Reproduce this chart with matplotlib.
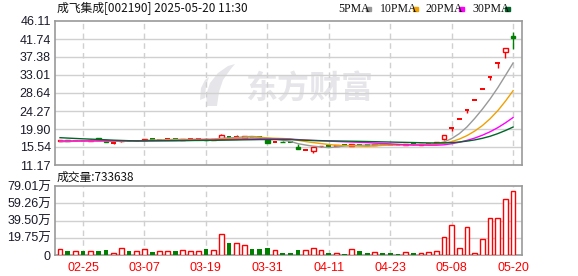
import matplotlib
matplotlib.use("Agg")
import matplotlib.pyplot as plt
from matplotlib.patches import Rectangle, Polygon
import numpy as np
import pandas as pd

plt.rcParams['font.family'] = ['Liberation Sans', 'Noto Sans CJK SC', 'DejaVu Sans']

# trading days shown (02-20 .. 05-20)
dates = ["02-20", "02-21", "02-24", "02-25", "02-26", "02-27", "02-28", "03-03", "03-04", "03-05",
         "03-06", "03-07", "03-10", "03-11", "03-12", "03-13", "03-14", "03-17", "03-18", "03-19",
         "03-20", "03-21", "03-24", "03-25", "03-26", "03-27", "03-28", "03-31", "04-01", "04-02",
         "04-03", "04-07", "04-08", "04-09", "04-10", "04-11", "04-14", "04-15", "04-16", "04-17",
         "04-18", "04-21", "04-22", "04-23", "04-24", "04-25", "04-28", "04-29", "04-30", "05-06",
         "05-07", "05-08", "05-09", "05-12", "05-13", "05-14", "05-15", "05-16", "05-19", "05-20"]

opens = [16.95, 17.20, 17.05, 17.15, 17.10, 17.60, 17.00, 16.55, 16.90, 17.15,
         17.05, 17.20, 17.45, 17.30, 17.38, 17.45, 17.30, 17.40, 17.42, 17.55,
         17.30, 17.50, 17.95, 17.90, 17.75, 18.05, 17.95, 17.20, 16.75, 16.85,
         16.70, 15.60, 14.85, 14.65, 15.70, 15.80, 15.75, 15.95, 15.90, 16.15,
         16.05, 16.00, 16.15, 16.15, 16.05, 16.00, 16.25, 16.10, 16.25, 16.50,
         17.48, 20.24, 22.26, 24.49, 26.94, 29.63, 32.59, 35.85, 38.50, 42.40]
highs = [17.30, 17.25, 17.25, 17.20, 17.45, 17.65, 17.05, 16.65, 17.20, 17.20,
         17.20, 17.45, 17.50, 17.40, 17.50, 17.48, 17.45, 17.50, 17.55, 17.60,
         17.50, 18.80, 18.00, 18.40, 18.30, 18.10, 18.00, 17.25, 16.90, 16.90,
         16.75, 16.20, 14.95, 15.50, 15.90, 15.85, 16.00, 16.00, 16.25, 16.20,
         16.10, 16.20, 16.20, 16.20, 16.10, 16.30, 16.30, 16.30, 16.35, 16.75,
         18.55, 20.24, 22.26, 24.49, 26.94, 29.63, 32.59, 35.85, 39.44, 43.38]
lows = [16.90, 17.00, 17.00, 17.00, 17.05, 17.15, 16.80, 16.30, 16.85, 17.00,
        17.00, 17.15, 17.30, 17.25, 17.30, 17.30, 17.28, 17.35, 17.40, 17.30,
        17.25, 17.45, 17.55, 17.85, 17.70, 17.90, 17.80, 16.40, 16.70, 16.65,
        16.55, 14.95, 14.70, 14.15, 15.65, 15.60, 15.70, 15.85, 15.85, 16.00,
        15.95, 15.95, 16.05, 16.00, 15.95, 15.95, 16.10, 16.05, 16.20, 16.45,
        17.24, 19.50, 22.26, 23.80, 26.94, 29.63, 31.80, 34.80, 37.06, 39.24]
closes = [17.15, 17.05, 17.15, 17.05, 17.35, 17.20, 16.85, 16.60, 17.10, 17.05,
          17.15, 17.40, 17.35, 17.38, 17.42, 17.35, 17.42, 17.45, 17.48, 17.35,
          17.45, 18.55, 17.88, 17.95, 18.20, 17.95, 17.85, 16.55, 16.85, 16.70,
          16.60, 15.00, 14.90, 15.45, 15.85, 15.70, 15.95, 15.90, 16.15, 16.05,
          16.00, 16.15, 16.10, 16.05, 16.00, 16.25, 16.15, 16.25, 16.30, 16.70,
          18.40, 20.24, 22.26, 24.49, 26.94, 29.63, 32.59, 35.85, 39.44, 42.10]
# closes of the 29 sessions before 02-20 (needed for the moving averages)
prev_closes = [20.0, 19.9, 19.7, 19.6, 19.5, 19.4, 19.3, 19.1, 18.9, 18.6,
               17.2, 17.0, 16.9, 17.1, 17.0, 16.8, 16.9, 17.1, 17.0, 17.0,
               17.3, 17.2, 17.2, 17.1, 17.2, 16.8, 16.7, 16.6, 16.75]

# volume in 万 and bar colour (R up / G down)
volume = [6.5, 5.0, 4.6, 5.0, 4.6, 5.0, 5.8, 2.7, 7.6, 5.0,
          4.6, 6.9, 3.8, 4.6, 4.6, 5.0, 5.8, 5.0, 4.6, 7.3,
          5.8, 24.2, 14.2, 13.8, 11.1, 6.9, 6.9, 8.1, 5.4, 2.7,
          2.0, 6.1, 5.8, 8.1, 5.8, 2.7, 2.3, 1.5, 6.9, 5.0,
          2.7, 3.8, 2.7, 2.7, 1.5, 3.8, 2.7, 2.7, 3.8, 5.0,
          20.7, 34.6, 8.1, 32.3, 2.7, 18.4, 42.6, 42.6, 64.1, 73.3638]
vol_dir = ("RGRGRGGRRG" "RRGRRGRRRG" "RRGRRGGGRG"
           "GGRRRGRGRG" "GRGGGRGRRR" "RRRRRRRRRR")

price_ticks = [11.17, 15.54, 19.90, 24.27, 28.64, 33.01, 37.38, 41.74, 46.11]
vol_ticks = [0, 19.75, 39.50, 59.26, 79.01]
vol_labels = ["0", "19.75万", "39.50万", "59.26万", "79.01万"]
date_ticks = ["02-25", "03-07", "03-19", "03-31", "04-11", "04-23", "05-08", "05-20"]

ma_periods = [5, 10, 20, 30]
ma_colors = ["#999999", "#f0a000", "#ff00ff", "#00662a"]
RED = "#ff0000"
GREEN = "#008000"
GRID = "#d0d0d0"
EDGE = "#999999"
WMARK = "#e6e6ea"

n = len(closes)
x = np.arange(n)
allc = pd.Series(prev_closes + closes)

fig = plt.figure(figsize=(5.78, 2.76), dpi=100)
W, H = 578, 276
ax = fig.add_axes([55 / W, 1 - 165 / H, 467 / W, 144 / H])
axv = fig.add_axes([55 / W, 1 - 255 / H, 467 / W, 69 / H])

xlim = (-0.65, 60.16)
tick_pos = [dates.index(d) for d in date_ticks]

for a in (ax, axv):
    a.set_xlim(*xlim)
    for s in a.spines.values():
        s.set_color(EDGE)
        s.set_linewidth(1.2)
    for p in tick_pos:
        a.axvline(p, color=GRID, lw=1, ls=(0, (4, 3)), zorder=0)
    a.tick_params(length=0, labelsize=9, labelcolor="#1a1a2a", pad=3)

# watermark (logo swoosh + name), behind the grid
ax.text(309 / W, 1 - 90 / H, "东方财富", transform=fig.transFigure, fontsize=23, color=WMARK,
        fontweight="bold", family=["Noto Sans CJK SC"], ha="center", va="center", zorder=-1)
swoosh = [(207, 106), (206, 95), (210, 83), (218, 73), (228, 66), (235, 64),
          (230, 70), (223, 80), (219, 92), (217, 106)]
ax.add_patch(Polygon([(px / W, 1 - py / H) for px, py in swoosh], closed=True,
                     transform=fig.transFigure, color=WMARK, lw=0, zorder=-1))
swoosh2 = [(200, 100), (201, 88), (205, 80), (209, 77), (206, 86), (205, 98)]
ax.add_patch(Polygon([(px / W, 1 - py / H) for px, py in swoosh2], closed=True,
                     transform=fig.transFigure, color=WMARK, lw=0, zorder=-1))

# price panel
ax.set_ylim(price_ticks[0], price_ticks[-1])
ax.set_yticks(price_ticks)
ax.set_yticklabels(["%.2f" % v for v in price_ticks])
for v in price_ticks[1:-1]:
    ax.axhline(v, color=GRID, lw=1, zorder=0)
ax.set_xticks([])

bw = 0.62
for i in range(n):
    o, h, l, c = opens[i], highs[i], lows[i], closes[i]
    up = c >= o
    col = RED if up else GREEN
    lo, hi = min(o, c), max(o, c)
    ax.vlines(i, hi, h, color=col, lw=1, zorder=3)
    ax.vlines(i, l, lo, color=col, lw=1, zorder=3)
    if hi - lo < 0.12:
        ax.hlines((hi + lo) / 2, i - bw / 2, i + bw / 2, color=col, lw=1.4, zorder=3)
    else:
        ax.add_patch(Rectangle((i - bw / 2, lo), bw, hi - lo, facecolor="white" if up else col,
                               edgecolor=col, lw=1, zorder=3))

for p, col in zip(ma_periods, ma_colors):
    ma = allc.rolling(p).mean().iloc[len(prev_closes):].values
    ax.plot(x, ma, color=col, lw=1, zorder=4)

# volume panel
axv.set_ylim(0, vol_ticks[-1])
axv.set_yticks(vol_ticks)
axv.set_yticklabels(vol_labels)
for v in vol_ticks[1:-1]:
    axv.axhline(v, color=GRID, lw=1, zorder=0)
for i in range(n):
    if vol_dir[i] == "R":
        axv.bar(i, volume[i], width=bw, facecolor="white", edgecolor=RED, lw=1, zorder=3)
    else:
        axv.bar(i, volume[i], width=bw, color=GREEN, lw=0, zorder=3)
axv.set_xticks(tick_pos)
axv.set_xticklabels(date_ticks)
axv.tick_params(axis="x", labelcolor=RED, pad=5)

# header texts
fig.text(57 / W, 1 - 9 / H, "成飞集成[002190] 2025-05-20 11:30", fontsize=8.5,
         family=["Noto Sans CJK SC"], va="center", color="#111111")
fig.text(57 / W, 1 - 177 / H, "成交量:733638", fontsize=8.5,
         family=["Noto Sans CJK SC"], va="center", color="#111111")
leg_x = [338, 380, 426, 472]
for lx, p, col in zip(leg_x, ma_periods, ma_colors):
    fig.text(lx / W, 1 - 9 / H, "%dPMA" % p, fontsize=8.5, family=["Liberation Serif"],
             va="center", color="#111111")
    sq_x = lx + (28 if p == 5 else 33)
    fig.patches.append(Rectangle((sq_x / W, 1 - 11 / H), 5 / W, 4 / H, color=col,
                                 transform=fig.transFigure, figure=fig))

fig.savefig("out.png", dpi=100)
